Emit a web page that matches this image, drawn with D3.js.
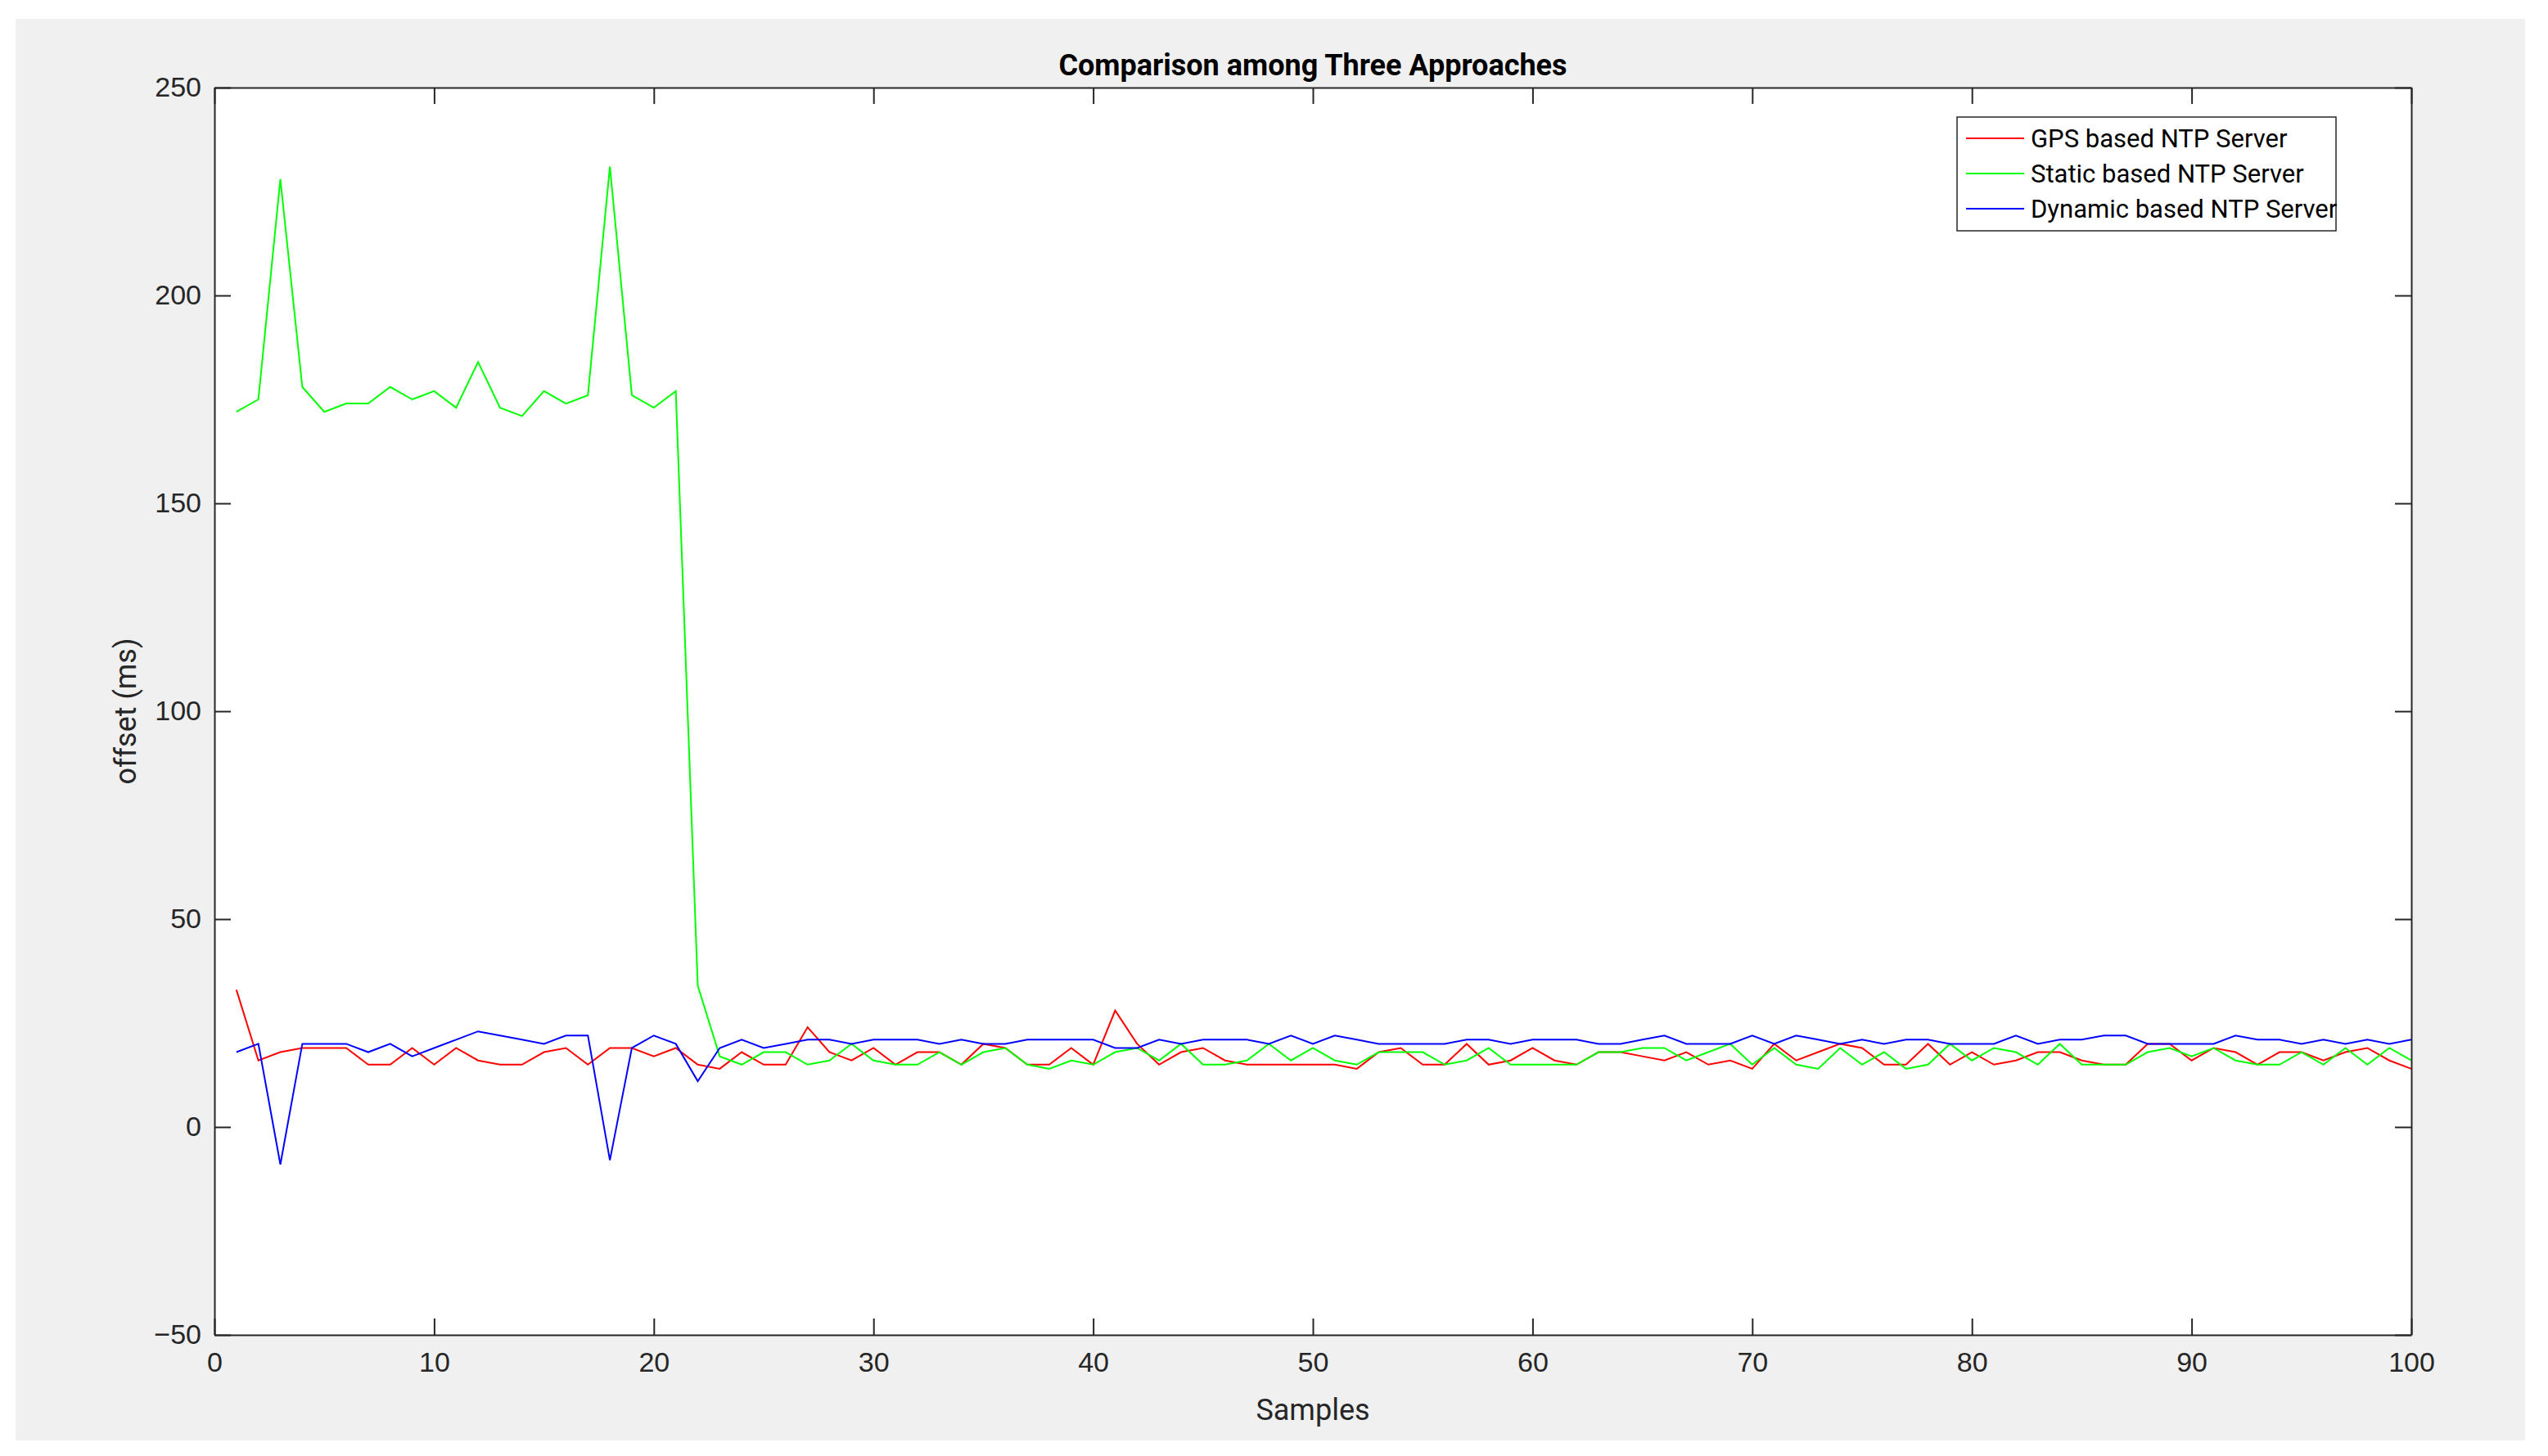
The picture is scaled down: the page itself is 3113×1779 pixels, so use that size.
<!DOCTYPE html>
<html>
<head>
<meta charset="utf-8">
<script src="https://cdn.jsdelivr.net/npm/d3@7"></script>
<style>
  body { margin: 0; background: #fff; }
  svg { display: block; font-family: Roboto, "Liberation Sans", Arial, sans-serif; }
</style>
</head>
<body>
<div id="chart"></div>
<script>
// Data
const samples = d3.range(1, 101);
const gps = [33,16,18,19,19,19,15,15,19,15,19,16,15,15,18,19,15,19,19,17,19,15,14,18,15,15,24,18,16,19,
  15,18,18,15,20,19,15,15,19,15,28,20,15,18,19,16,15,15,15,15,15,14,18,19,15,15,20,15,16,19,
  16,15,18,18,17,16,18,15,16,14,20,16,18,20,19,15,15,20,15,18,15,16,18,18,16,15,15,20,20,16,
  19,18,15,18,18,16,18,19,16,14];
const staticNtp = [172,175,228,178,172,174,174,178,175,177,173,184,173,171,177,174,176,231,176,173,177,34,17,15,18,18,15,16,20,16,
  15,15,18,15,18,19,15,14,16,15,18,19,16,20,15,15,16,20,16,19,16,15,18,18,18,15,16,19,15,15,
  15,15,18,18,19,19,16,18,20,15,19,15,14,19,15,18,14,15,20,16,19,18,15,20,15,15,15,18,19,17,
  19,16,15,15,18,15,19,15,19,16];
const dynamicNtp = [18,20,-9,20,20,20,18,20,17,19,21,23,22,21,20,22,22,-8,19,22,20,11,19,21,19,20,21,21,20,21,
  21,21,20,21,20,20,21,21,21,21,19,19,21,20,21,21,21,20,22,20,22,21,20,20,20,20,21,21,20,21,
  21,21,20,20,21,22,20,20,20,22,20,22,21,20,21,20,21,21,20,20,20,22,20,21,21,22,22,20,20,20,
  20,22,21,21,20,21,20,21,20,21];
const seriesNames = ["GPS based NTP Server", "Static based NTP Server", "Dynamic based NTP Server"];
const seriesColors = ["#ff0000", "#00ff00", "#0000ff"];
const xTicks = [0,10,20,30,40,50,60,70,80,90,100];
const yTicks = [-50,0,50,100,150,200,250];

const W = 3113, H = 1779;
const plot = { left: 262, top: 107, right: 2946, bottom: 1631 };

const svg = d3.select('#chart').append('svg').attr('width', W).attr('height', H);

// figure background
svg.append('rect').attr('x', 19).attr('y', 23).attr('width', 3085 - 19).attr('height', 1760 - 23).attr('fill', '#f0f0f0');
svg.append('rect').attr('x', plot.left).attr('y', plot.top)
  .attr('width', plot.right - plot.left).attr('height', plot.bottom - plot.top).attr('fill', '#fff');

const x = d3.scaleLinear().domain([0, 100]).range([plot.left, plot.right]);
const y = d3.scaleLinear().domain([-50, 250]).range([plot.bottom, plot.top]);

const line = d3.line().x((d, i) => x(samples[i])).y(d => y(d));
[gps, staticNtp, dynamicNtp].forEach((s, k) => {
  svg.append('path').datum(s).attr('fill', 'none').attr('stroke', seriesColors[k])
    .attr('stroke-width', 2).attr('d', line);
});

// axes: ticks point inwards, mirrored on top and right
const tl = 20;
const styleAxis = g => {
  g.selectAll('path').attr('stroke', '#262626').attr('stroke-width', 2);
  g.selectAll('line').attr('stroke', '#262626').attr('stroke-width', 2);
  g.selectAll('text').attr('fill', '#262626').style('font-size', '34px');
};
svg.append('g').attr('transform', `translate(0,${plot.bottom})`)
  .call(d3.axisBottom(x).tickValues(xTicks).tickSizeInner(-tl).tickSizeOuter(0).tickPadding(14))
  .call(styleAxis).selectAll('text').attr('dy', '0.9em');
svg.append('g').attr('transform', `translate(0,${plot.top})`)
  .call(d3.axisTop(x).tickValues(xTicks).tickSizeInner(-tl).tickSizeOuter(0).tickFormat(''))
  .call(styleAxis);
svg.append('g').attr('transform', `translate(${plot.left},0)`)
  .call(d3.axisLeft(y).tickValues(yTicks).tickSizeInner(-tl).tickSizeOuter(0).tickPadding(16))
  .call(styleAxis);
svg.append('g').attr('transform', `translate(${plot.right},0)`)
  .call(d3.axisRight(y).tickValues(yTicks).tickSizeInner(-tl).tickSizeOuter(0).tickFormat(''))
  .call(styleAxis);

// titles
svg.append('text').attr('x', (plot.left + plot.right) / 2).attr('y', 92).attr('text-anchor', 'middle')
  .style('font-size', '36px').style('font-weight', 'bold').attr('fill', '#000').text('Comparison among Three Approaches');
svg.append('text').attr('x', (plot.left + plot.right) / 2).attr('y', 1735).attr('text-anchor', 'middle')
  .style('font-size', '36px').attr('fill', '#262626').text('Samples');
svg.append('text').attr('transform', `translate(166,${(plot.top + plot.bottom) / 2}) rotate(-90)`)
  .attr('text-anchor', 'middle').style('font-size', '36px').attr('fill', '#262626').text('offset (ms)');

// legend
const lg = svg.append('g').attr('transform', 'translate(2391,143)');
lg.append('rect').attr('width', 463).attr('height', 139).attr('fill', '#fff').attr('stroke', '#262626').attr('stroke-width', 1.5);
seriesNames.forEach((name, i) => {
  const cy = 26 + i * 43;
  lg.append('line').attr('x1', 11).attr('x2', 82).attr('y1', cy).attr('y2', cy)
    .attr('stroke', seriesColors[i]).attr('stroke-width', 2);
  lg.append('text').attr('x', 90).attr('y', cy).attr('dy', '0.35em')
    .style('font-size', '31px').attr('fill', '#000').text(name);
});
</script>
</body>
</html>
